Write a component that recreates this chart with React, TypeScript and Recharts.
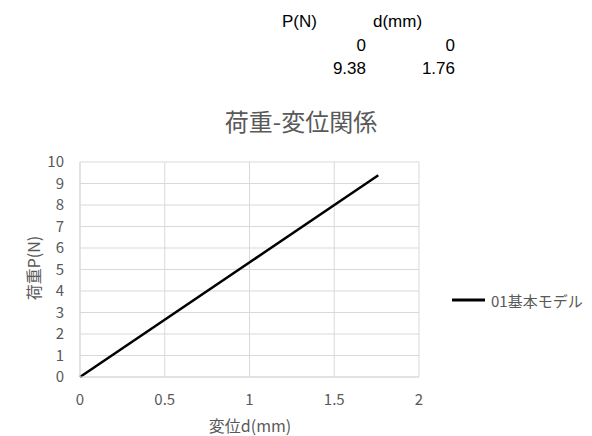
import { LineChart, Line, XAxis, YAxis, CartesianGrid } from "recharts";

const dValues = [0, 1.76];
const pValues = [0, 9.38];
const xTicks = [0, 0.5, 1, 1.5, 2];
const yTicks = [0, 1, 2, 3, 4, 5, 6, 7, 8, 9, 10];
const seriesName = "01基本モデル";
const headers = ["P(N)", "d(mm)"];

const data = dValues.map((d, i) => ({ d, p: pValues[i] }));

const gray = "#595959";
const font = "'Noto Sans CJK JP', 'Liberation Sans', sans-serif";
const tableFont = "'Liberation Sans', 'Noto Sans CJK JP', sans-serif";

const cell = (left: number, top: number, right?: number): React.CSSProperties => ({
  position: "absolute",
  top,
  ...(right !== undefined ? { right: 592 - right } : { left }),
  whiteSpace: "nowrap",
});

const App = () => {
  return (
    <div
      style={{
        position: "absolute",
        left: 0,
        top: 0,
        width: 592,
        height: 436,
        background: "#fff",
        fontFamily: font,
      }}
    >
      {/* table above the chart */}
      <div style={{ fontFamily: tableFont, fontSize: 17, lineHeight: "23px", color: "#000" }}>
        <div style={cell(282, 10)}>{headers[0]}</div>
        <div style={cell(373, 10)}>{headers[1]}</div>
        {pValues.map((p, i) => (
          <div key={"p" + i} style={cell(0, 34 + i * 23, 366)}>
            {p}
          </div>
        ))}
        {dValues.map((d, i) => (
          <div key={"d" + i} style={cell(0, 34 + i * 23, 455)}>
            {d}
          </div>
        ))}
      </div>

      <div
        style={{
          position: "absolute",
          left: 301,
          top: 121,
          transform: "translate(-50%, -50%)",
          fontSize: 24,
          lineHeight: 1,
          color: gray,
          whiteSpace: "nowrap",
        }}
      >
        荷重-変位関係
      </div>

      <LineChart
        width={592}
        height={436}
        data={data}
        margin={{ top: 162, right: 173, bottom: 29, left: 50 }}
        style={{ position: "absolute", left: 0, top: 0 }}
      >
        <CartesianGrid stroke="#d9d9d9" />
        <XAxis
          dataKey="d"
          type="number"
          domain={[0, 2]}
          ticks={xTicks}
          interval={0}
          height={30}
          axisLine={{ stroke: "#d9d9d9" }}
          tickLine={false}
          tickMargin={11}
          tick={{ fill: gray, fontSize: 15, fontFamily: font }}
        />
        <YAxis
          type="number"
          domain={[0, 10]}
          ticks={yTicks}
          interval={0}
          width={30}
          axisLine={{ stroke: "#d9d9d9" }}
          tickLine={false}
          tickMargin={10}
          tick={{ fill: gray, fontSize: 15, fontFamily: font }}
        />
        <Line
          dataKey="p"
          name={seriesName}
          stroke="#000"
          strokeWidth={2.5}
          dot={false}
          isAnimationActive={false}
        />
      </LineChart>

      <div
        style={{
          position: "absolute",
          left: 33,
          top: 268,
          transform: "translate(-50%, -50%) rotate(-90deg)",
          fontSize: 16,
          lineHeight: 1,
          color: gray,
          whiteSpace: "nowrap",
        }}
      >
        荷重P(N)
      </div>
      <div
        style={{
          position: "absolute",
          left: 250,
          top: 425,
          transform: "translate(-50%, -50%)",
          fontSize: 16,
          lineHeight: 1,
          color: gray,
          whiteSpace: "nowrap",
        }}
      >
        変位d(mm)
      </div>

      {/* legend */}
      <div
        style={{
          position: "absolute",
          left: 452,
          top: 300,
          transform: "translateY(-50%)",
          display: "flex",
          alignItems: "center",
          fontSize: 15,
          lineHeight: 1,
          color: gray,
          whiteSpace: "nowrap",
        }}
      >
        <div style={{ width: 33, height: 3, background: "#000" }} />
        <span style={{ marginLeft: 6 }}>{seriesName}</span>
      </div>
    </div>
  );
};

export default App;
